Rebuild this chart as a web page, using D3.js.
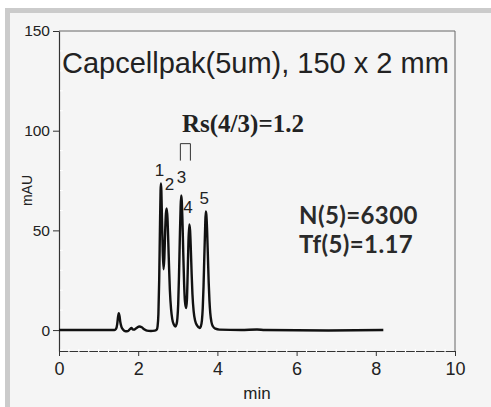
<!DOCTYPE html>
<html>
<head>
<meta charset="utf-8">
<script src="https://cdn.jsdelivr.net/npm/d3@7"></script>
<style>
  html, body { margin: 0; padding: 0; background: #fff; }
  svg { display: block; }
</style>
</head>
<body>
<svg id="chart" width="491" height="407"></svg>
<script>
// chromatogram trace (min, mAU)
const traceTime = [
  0, 1.00, 1.40, 1.44, 1.47, 1.49, 1.51, 1.53, 1.55, 1.58, 1.62, 1.68, 1.74, 1.79, 1.83, 1.87,
  1.91, 1.97, 2.03, 2.09, 2.15, 2.22, 2.32, 2.42, 2.47, 2.49, 2.51, 2.53, 2.55, 2.565, 2.575,
  2.585, 2.60, 2.62, 2.64, 2.66, 2.68, 2.70, 2.72, 2.74, 2.76, 2.78, 2.80, 2.83, 2.86, 2.90,
  2.94, 2.97, 2.99, 3.01, 3.03, 3.05, 3.07, 3.085, 3.10, 3.12, 3.14, 3.16, 3.18, 3.21, 3.23,
  3.25, 3.27, 3.29, 3.31, 3.33, 3.35, 3.37, 3.40, 3.44, 3.49, 3.55, 3.58, 3.61, 3.63, 3.65,
  3.67, 3.69, 3.705, 3.72, 3.74, 3.76, 3.78, 3.80, 3.82, 3.85, 3.89, 3.95, 4.05, 4.60, 5.00,
  5.20, 6.80, 8.19
];
const traceMAU = [
  0, 0, 0, 0.6, 3, 6.5, 8.5, 6.8, 3.8, 1.5, 0.2, -0.6, -0.5, 0.5, 1.0, 0.2,
  0.3, 1.2, 1.8, 1.4, 0.4, -0.3, -0.5, -0.3, 0.3, 2, 8, 25, 52, 70, 73.5,
  70, 56, 39, 30.5, 36, 49, 58.5, 61, 56, 44, 31, 20, 10.5, 5.5, 2.8,
  1.8, 3, 6, 13, 27, 45, 61, 67.5, 65, 53, 37, 23, 14.5, 11, 15,
  29, 45, 53, 50, 40, 28, 18, 9.5, 4.5, 2.2, 1, 1.8, 5, 11, 22,
  37, 51, 59.5, 58, 50, 37, 24, 14.5, 8.5, 4, 1.8, 0.7, 0.2, 0, 0.3,
  0, -0.2, 0
];

// peak numbers and where they sit (min, mAU at baseline of the digit)
const peakLabels = ['1', '2', '3', '4', '5'];
const peakLabelTime = [2.54, 2.79, 3.09, 3.26, 3.67];
const peakLabelMAU = [77.5, 70.5, 74, 58.5, 63];

const xTicks = [0, 2, 4, 6, 8, 10];
const yTicks = [0, 50, 100, 150];

const titleText = 'Capcellpak(5um), 150 x 2 mm';
const rsText = 'Rs(4/3)=1.2';
const statsText = ['N(5)=6300', 'Tf(5)=1.17'];

const svg = d3.select('#chart');

// panel background with grey edge
svg.append('rect')
  .attr('x', 5).attr('y', 8)
  .attr('width', 486).attr('height', 399)
  .attr('fill', '#cbcbcb');
svg.append('rect')
  .attr('x', 10).attr('y', 13)
  .attr('width', 481).attr('height', 394)
  .attr('fill', '#f5f5f5');

const margin = { left: 59, right: 455, top: 31, bottom: 351 };

const x = d3.scaleLinear()
  .domain([0, 10])
  .range([margin.left, margin.right]);

const y = d3.scaleLinear()
  .domain([-10.5, 150])
  .range([margin.bottom, margin.top]);

// frame (top + right)
svg.append('path')
  .attr('d', `M${margin.left},${margin.top}H${margin.right}V${margin.bottom}`)
  .attr('fill', 'none')
  .attr('stroke', '#666')
  .attr('stroke-width', 1);

// y axis
const yAxis = svg.append('g')
  .attr('transform', `translate(${margin.left},0)`)
  .call(d3.axisLeft(y).tickValues(yTicks).tickSize(6).tickPadding(3).tickSizeOuter(0));

yAxis.select('.domain').attr('stroke', '#333').attr('stroke-width', 1.2);
yAxis.selectAll('.tick line').attr('stroke', '#333');
yAxis.selectAll('.tick text')
  .style('font-family', '"Liberation Sans", Arial, sans-serif')
  .style('font-size', '15.5px')
  .attr('fill', '#222');

// minor y ticks (light, inside)
svg.append('g')
  .selectAll('line')
  .data(d3.range(-10, 151, 10).filter(v => v % 50 !== 0))
  .join('line')
    .attr('x1', margin.left + 1).attr('x2', margin.left + 4)
    .attr('y1', d => y(d)).attr('y2', d => y(d))
    .attr('stroke', '#fff')
    .attr('stroke-width', 1);

// x axis
const xAxis = svg.append('g')
  .attr('transform', `translate(0,${margin.bottom})`)
  .call(d3.axisBottom(x).tickValues(xTicks).tickSize(5).tickPadding(6).tickSizeOuter(0));

xAxis.select('.domain').attr('stroke', '#333').attr('stroke-width', 1.2);
xAxis.selectAll('.tick line').attr('stroke', '#333');
xAxis.selectAll('.tick text')
  .style('font-family', '"Liberation Sans", Arial, sans-serif')
  .style('font-size', '18px')
  .attr('fill', '#222');

// minor x ticks break the axis line
svg.append('g')
  .selectAll('line')
  .data(d3.range(0.25, 10, 0.25).filter(v => v % 2 !== 0))
  .join('line')
    .attr('x1', d => x(d)).attr('x2', d => x(d))
    .attr('y1', margin.bottom - 2).attr('y2', margin.bottom + 1)
    .attr('stroke', '#fff')
    .attr('stroke-width', 1.2);

// axis titles
svg.append('text')
  .attr('transform', `translate(32,${y(70)}) rotate(-90)`)
  .attr('text-anchor', 'middle')
  .style('font-family', '"Liberation Sans", Arial, sans-serif')
  .style('font-size', '14px')
  .attr('fill', '#222')
  .text('mAU');

svg.append('text')
  .attr('x', x(5))
  .attr('y', 399)
  .attr('text-anchor', 'middle')
  .style('font-family', '"Liberation Sans", Arial, sans-serif')
  .style('font-size', '17px')
  .attr('fill', '#222')
  .text('min');

// the trace
const points = traceTime.map((t, i) => [t, traceMAU[i]]);

const line = d3.line()
  .x(d => x(d[0]))
  .y(d => y(d[1]))
  .curve(d3.curveMonotoneX);

svg.append('path')
  .datum(points)
  .attr('d', line)
  .attr('fill', 'none')
  .attr('stroke', '#111')
  .attr('stroke-width', 2.4)
  .attr('stroke-linejoin', 'round');

// peak numbers
svg.append('g')
  .selectAll('text')
  .data(peakLabels)
  .join('text')
    .attr('x', (d, i) => x(peakLabelTime[i]))
    .attr('y', (d, i) => y(peakLabelMAU[i]))
    .attr('text-anchor', 'middle')
    .style('font-family', '"Liberation Sans", Arial, sans-serif')
    .style('font-size', '17px')
    .attr('fill', '#222')
    .text(d => d);

// title
svg.append('text')
  .attr('x', 62)
  .attr('y', 72.5)
  .style('font-family', '"Liberation Sans", Arial, sans-serif')
  .style('font-size', '29px')
  .attr('fill', '#222')
  .text(titleText);

// resolution bracket between peaks 3 and 4
svg.append('path')
  .attr('d', `M${x(3.065)},${y(85)}V${y(93.5)}H${x(3.318)}V${y(85)}`)
  .attr('fill', 'none')
  .attr('stroke', '#333')
  .attr('stroke-width', 1);

svg.append('text')
  .attr('x', 182)
  .attr('y', 132)
  .style('font-family', '"Liberation Serif", "Times New Roman", serif')
  .style('font-weight', 'bold')
  .style('font-size', '25px')
  .attr('fill', '#222')
  .text(rsText);

svg.append('g')
  .selectAll('text')
  .data(statsText)
  .join('text')
    .attr('x', 299)
    .attr('y', (d, i) => 224 + i * 29)
    .style('font-family', 'Lato, "Open Sans", sans-serif')
    .style('font-weight', 'bold')
    .style('font-size', '24px')
    .style('letter-spacing', '0.4px')
    .attr('fill', '#2a2a2a')
    .text(d => d);
</script>
</body>
</html>
